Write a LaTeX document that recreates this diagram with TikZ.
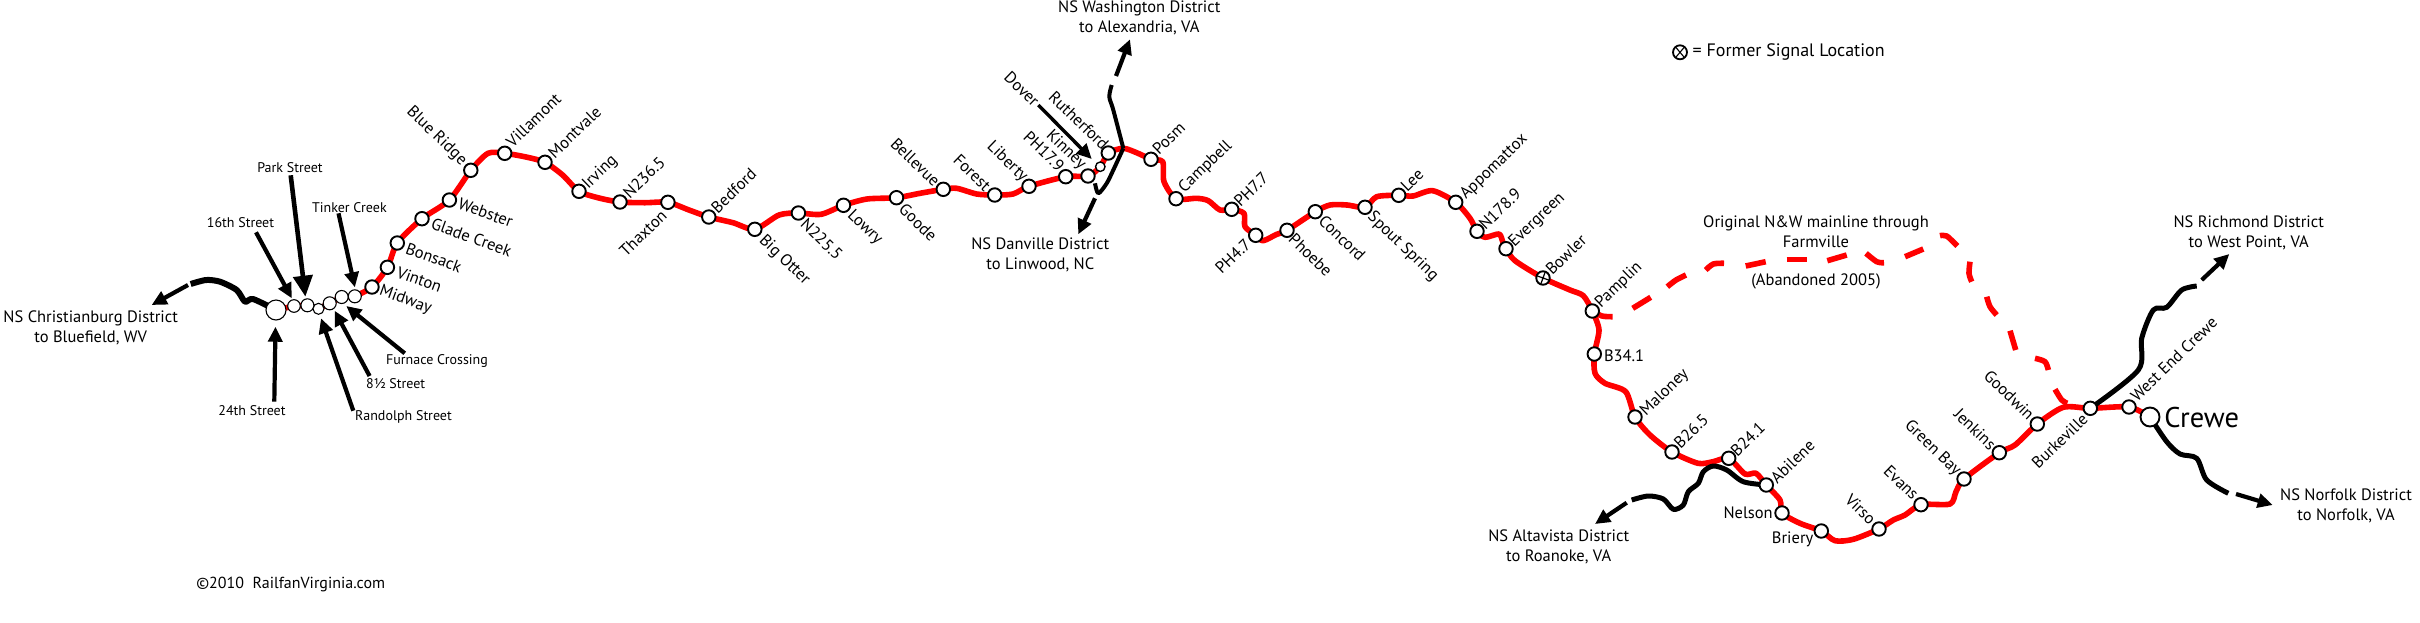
\documentclass[tikz,border=0pt]{standalone}
\usepackage{fontspec}
\setmainfont{PT Sans}
\usetikzlibrary{arrows.meta}
\definecolor{railred}{RGB}{255,0,0}
\tikzset{
  st/.style={circle,draw=black,fill=white,line width=1.9pt,minimum size=13.5pt,inner sep=0pt,outer sep=0pt},
  sts/.style={circle,draw=black,fill=white,line width=1.1pt,inner sep=0pt,outer sep=0pt},
  rail/.style={draw=railred,line width=5.6pt,line join=round},
  old/.style={draw=railred,line width=5.6pt,line join=round},
  blk/.style={draw=black,line width=5pt,line join=round},
  ptr/.style={draw=black,line width=4.2pt,-{Triangle[length=15pt,width=14pt]}},
  lab/.style={font=\fontsize{16.5}{20}\selectfont,inner sep=0pt,outer sep=0pt},
  up/.style={lab,rotate=44,anchor=west},
  upe/.style={lab,rotate=44,anchor=east},
  dn/.style={lab,rotate=-44,anchor=west},
  dne/.style={lab,rotate=-44,anchor=east},
  sl/.style={lab,rotate=-20,anchor=west},
  txt/.style={font=\fontsize{16.5}{20}\selectfont,align=center,inner sep=0pt},
  sm/.style={font=\fontsize{14}{17}\selectfont,align=center,inner sep=0pt}
}
\begin{document}
\begin{tikzpicture}[x=1pt,y=-1pt]
\useasboundingbox (0,0) rectangle (2420,622);
% junction coordinates
\coordinate (jw) at (1123.3,148.3);
\coordinate (jd) at (1098.3,193.3);
\coordinate (big) at (276,310);
\coordinate (cwc) at (2150,417);
% named positions of stations
\coordinate (p1) at (294,306);\coordinate (p2) at (307.4,305.3);\coordinate (p3) at (318.5,308.8);
\coordinate (p4) at (329.7,303.3);\coordinate (p5) at (341.7,297);\coordinate (p6) at (354.8,296.3);
\coordinate (mid) at (372,287);\coordinate (vin) at (387.4,267.3);\coordinate (bon) at (397.3,243);
\coordinate (gla) at (422,218.7);\coordinate (web) at (449.4,200);\coordinate (blu) at (470.8,170.3);
\coordinate (vil) at (504.7,153.3);\coordinate (mon) at (545,162.3);\coordinate (irv) at (579,191.3);
\coordinate (n23) at (620,202);\coordinate (tha) at (667.9,202.3);\coordinate (bed) at (708.8,217);
\coordinate (bot) at (754.8,229.3);\coordinate (n22) at (798.4,213);\coordinate (low) at (843.5,205.3);
\coordinate (goo) at (896.5,197.7);\coordinate (bel) at (943.3,189.3);\coordinate (for) at (994.7,195);
\coordinate (lib) at (1029,186.3);\coordinate (ph17) at (1065.7,176.7);\coordinate (kin) at (1088,176);
\coordinate (sma) at (1100.3,166.7);\coordinate (rut) at (1108.3,153);\coordinate (pos) at (1151,159.3);
\coordinate (cam) at (1176,198.7);\coordinate (ph7) at (1231.7,209.3);\coordinate (ph4) at (1255.7,235.3);
\coordinate (pho) at (1287,230.3);\coordinate (con) at (1315.3,211.7);\coordinate (spo) at (1365,207.3);
\coordinate (lee) at (1398.7,195.3);\coordinate (app) at (1455.7,202.3);\coordinate (n17) at (1477,231.3);
\coordinate (eve) at (1506,248.7);\coordinate (bow) at (1543,278);\coordinate (pam) at (1592.3,311);
\coordinate (b34) at (1594.3,354);\coordinate (mal) at (1635,417);\coordinate (b26) at (1672,452);
\coordinate (b24) at (1728.7,458.3);\coordinate (abi) at (1766.3,485);\coordinate (nel) at (1782,513);
\coordinate (bri) at (1821.3,531);\coordinate (vir) at (1879,529);\coordinate (eva) at (1921,504.7);
\coordinate (gre) at (1964,479);\coordinate (jen) at (1999.3,452.7);\coordinate (gdw) at (2037.3,424);
\coordinate (bur) at (2090.3,408.3);\coordinate (wec) at (2129,407);
% main line
\draw[rail] (big)--(p1)--(p2)--(p3)--(p4)--(p5)--(p6);
\draw[rail] plot[smooth,tension=.45] coordinates {(p6)(mid)(vin)(bon)(gla)(web)(blu)(488,153.3)(vil)(526,157)(mon)(562.6,175)(irv)(599,198)(n23)(645,202.7)(tha)(689,210)(bed)(733,222.7)(bot)(779,215)(n22)(821,214.3)(low)(867,199)(goo)(920,193.3)(bel)(956.7,188.3)(976.7,194)(for)(1013,194)(lib)(ph17)(kin)(sma)(rut)(1123.3,148.3)(1138,153.3)(pos)(1162.7,161.7)(1164,181.7)(cam)(1196.7,198.3)(1208.3,200.7)(1220,210)(ph7)(1244,213.3)(1245,226.7)(ph4)(1263,240.7)(1276.7,234.3)(pho)(con)(1330,205)(1347,205)(spo)(1376.7,196.7)(lee)(1413,196)(1432.7,190.7)(app)(1470,218.3)(n17)(1485,237.3)(1499,234)(1502.7,241.7)(eve)(1515,260.7)(bow)(1570,290)(1583.3,295.7)(pam)(1599,330)(b34)(1595,373.3)(1605,383.3)(1625.7,391.7)(mal)(1650,435)(b26)(1698,463.3)(1713,461.7)(b24)(1745,474)(1756,473.3)(abi)(1780,500)(nel)(1800,523.3)(bri)(1835,540.7)(1853.3,539.3)(vir)(1893.3,520)(1905,515)(eva)(1950,504)(1956,491.7)(gre)(jen)(2015,445)(gdw)(2063.3,407.3)(bur)(wec)(cwc)};
% abandoned line
\draw[old] plot[smooth,tension=.5] coordinates {(pam)(1602,316)(1612.7,316.7)};
\draw[old] (1632.7,308.3)--(1650.7,297.3);
\draw[old] plot[smooth,tension=.5] coordinates {(1667.3,286.7)(1676,280)(1686,275)};
\draw[old] plot[smooth,tension=.5] coordinates {(1705.7,270)(1713.3,264)(1724,263.3)};
\draw[old] (1745.7,266)--(1765.7,261.7);
\draw[old] (1786.7,259.3)--(1807.3,259.3);
\draw[old] (1827.3,260.7)--(1846.7,255);
\draw[old] plot[smooth,tension=.5] coordinates {(1866,253.3)(1876.7,261.7)(1884,262.7)};
\draw[old] (1905,256.7)--(1923.3,249);
\draw[old] plot[smooth,tension=.5] coordinates {(1940,235.7)(1946.7,236)(1957.3,246)};
\draw[old] plot[smooth,tension=.5] coordinates {(1970,261.7)(1969,273.3)(1971.7,281.7)};
\draw[old] plot[smooth,tension=.5] coordinates {(1986.7,296.7)(1990,306.7)(1996.7,315)};
\draw[old] (2010,330.7)--(2015.7,350);
\draw[old] plot[smooth,tension=.5] coordinates {(2035,358.3)(2045,361.7)(2048.3,370)};
\draw[old] plot[smooth,tension=.5] coordinates {(2055,389.3)(2061.7,400)(2067.3,403.3)};
% black connecting lines
\draw[blk,line width=6pt] plot[smooth,tension=.45] coordinates {(big)(253,299)(245,301.7)(236.7,290)(220,281.7)(206,280)(190.7,284)};
\draw[blk,line width=4pt] plot[smooth,tension=.5] coordinates {(jw)(1113.3,110)(1109.3,96.7)(1111.7,85)};
\draw[blk,line width=4pt] plot[smooth,tension=.5] coordinates {(jw)(1113.3,170)(1106.7,183.3)(jd)(1095,183.3)};
\draw[blk] plot[smooth,tension=.5] coordinates {(abi)(1743.3,481.7)(1726.7,470)(1713.3,466)(1703.3,471.7)(1698.3,483.3)(1688.3,491.7)(1683.3,505)(1673.3,509.3)(1663.3,499)(1648.3,496)(1631.7,500)};
\draw[blk] plot[smooth,tension=.5] coordinates {(bur)(2138.3,370)(2141.7,338.3)(2153.3,310)(2166.7,307.3)(2181.7,290)(2196.7,286)};
\draw[blk] plot[smooth,tension=.5] coordinates {(cwc)(2166.7,441.7)(2180,454)(2196.7,458.3)(2206.7,480)(2228.3,493.3)};
% stations
\node[sts,minimum size=20pt] (nbig) at (big) {};
\node[sts,minimum size=12.6pt] (n1) at (p1) {};
\node[sts,minimum size=13pt] (n2) at (p2) {};
\node[sts,minimum size=11pt] (n3) at (p3) {};
\node[sts,minimum size=13pt] (n4) at (p4) {};
\node[sts,minimum size=13pt] (n5) at (p5) {};
\node[sts,minimum size=13pt] (n6) at (p6) {};
\foreach \c in {mid,vin,bon,gla,web,blu,vil,mon,irv,n23,tha,bed,bot,n22,low,goo,bel,for,lib,ph17,kin,rut,pos,cam,ph7,ph4,pho,con,spo,lee,app,n17,eve,pam,b34,mal,b26,b24,abi,nel,bri,vir,eva,gre,jen,gdw,bur,wec}
  \node[st] (n\c) at (\c) {};
\node[st,minimum size=9.5pt,line width=1.4pt] (nsma) at (sma) {};
\node[st,minimum size=19pt] (ncrewe) at (cwc) {};
\node[st] (nbow) at (bow) {};
\draw[line width=1.2pt] (nbow.70)--(nbow.250) (nbow.160)--(nbow.340);
% pointer arrows
\coordinate (a16) at (256,232.3);\coordinate (apk) at (290.7,175.3);\coordinate (atk) at (338.5,213.3);
\coordinate (a24) at (274.3,401.7);\coordinate (arn) at (353.3,410.7);\coordinate (a85) at (369.6,376);\coordinate (afn) at (404.7,353.3);
\draw[ptr] (a16)--(291.8,298.3);
\draw[ptr,line width=4.6pt,-{Triangle[length=21pt,width=19pt]}] (apk)--(305.4,296.7);
\draw[ptr] (atk)--(354.9,287.3);
\draw[ptr] (a24)--(275.5,326.7);
\draw[ptr] (arn)--(321,318.3);
\draw[ptr] (a85)--(334.6,310.7);
\draw[ptr] (afn)--(346.3,306);
\draw[ptr,line width=3.4pt] (1038.3,105)--(1091.7,159);
\draw[ptr] (188,285)--(151.7,305);
\draw[ptr] (1116,76)--(1130,39.3);
\draw[ptr] (1095,198.3)--(1078.3,234.3);
\draw[ptr] (1626.7,502.7)--(1595,524);
\draw[ptr] (2201.7,280)--(2229.3,254);
\draw[ptr] (2236,494)--(2272.7,505);
% station labels
\node[sl] (lmid) at (380,291) {Midway};
\node[sl] (lvin) at (397.7,271.7) {Vinton};
\node[sl] (lbon) at (406.6,247.7) {Bonsack};
\node[sl] (lgla) at (432,223) {Glade Creek};
\node[sl] (lweb) at (459,203) {Webster};
\node[dne] (lblu) at (464,163) {Blue Ridge};
\node[up] (lvil) at (509,144) {Villamont};
\node[up] (lmon) at (551,155) {Montvale};
\node[up] (lirv) at (585.6,186.7) {Irving};
\node[up] (ln23) at (625.8,195) {N236.5};
\node[upe] (ltha) at (664,213) {Thaxton};
\node[up] (lbed) at (713.8,210) {Bedford};
\node[dn] (lbot) at (761.6,238.3) {Big Otter};
\node[dn] (ln22) at (803.7,221.7) {N225.5};
\node[dn] (llow) at (849.7,213.3) {Lowry};
\node[dn] (lgoo) at (902,206.7) {Goode};
\node[dne] (lbel) at (937.3,183.3) {Bellevue};
\node[dne] (lfor) at (988,188.3) {Forest};
\node[dne] (llib) at (1025,179.3) {Liberty};
\node[dne] (lph17) at (1061.7,168.3) {PH17.9};
\node[dne] (lkin) at (1083.3,166.7) {Kinney};
\node[dne] (ldov) at (1036.7,103.3) {Dover};
\node[dne] (lrut) at (1106,146.7) {Rutherford};
\node[up] (lpos) at (1155,151.7) {Posm};
\node[up] (lcam) at (1181.7,190) {Campbell};
\node[up] (lph7) at (1236.7,203.3) {PH7.7};
\node[upe] (lph4) at (1248,241.7) {PH4.7};
\node[dn] (lpho) at (1291.7,236.7) {Phoebe};
\node[dn] (lcon) at (1321.7,218.3) {Concord};
\node[dn] (lspo) at (1370,215) {Spout Spring};
\node[up] (llee) at (1403.3,188.3) {Lee};
\node[up] (lapp) at (1463.3,196.7) {Appomattox};
\node[up] (ln17) at (1481.7,226.7) {N178.9};
\node[up] (leve) at (1511.7,245) {Evergreen};
\node[up] (lbow) at (1548.3,271.7) {Bowler};
\node[up] (lpam) at (1598.3,305) {Pamplin};
\node[lab,anchor=west] (lb34) at (1604,355.7) {B34.1};
\node[up] (lmal) at (1643.3,413.3) {Maloney};
\node[up] (lb26) at (1676.7,445) {B26.5};
\node[up] (lb24) at (1733.3,453.3) {B24.1};
\node[up] (labi) at (1773.3,480) {Abilene};
\node[lab,anchor=east] (lnel) at (1772.7,512.3) {Nelson};
\node[lab,anchor=east] (lbri) at (1813.3,539.3) {Briery};
\node[dne] (lvir) at (1873.3,521.7) {Virso};
\node[dne] (leva) at (1916,496.7) {Evans};
\node[dne] (lgre) at (1958.3,473.3) {Green Bay};
\node[dne] (ljen) at (1993.3,446.7) {Jenkins};
\node[dne] (lgdw) at (2031.7,416.7) {Goodwin};
\node[upe] (lbur) at (2085,416.7) {Burkeville};
\node[up] (lwec) at (2133.3,398.3) {West End Crewe};
\node[lab,anchor=west,font=\fontsize{28.5}{30}\selectfont] (lcrw) at (2164.3,417.3) {Crewe};
% pointer labels
\node[sm] (tpk) at (290,167.3) {Park Street};
\node[sm] (t16) at (240.5,222.3) {16th Street};
\node[sm] (ttk) at (349.4,207.3) {Tinker Creek};
\node[sm] (t24) at (252,410.3) {24th Street};
\node[sm] (trn) at (403.5,417.3) {Randolph Street};
\node[sm] (t85) at (395.7,383.3) {8½ Street};
\node[sm] (tfn) at (437,360.7) {Furnace Crossing};
% districts
\node[txt] (tcb) at (90.7,328.3) {NS Christianburg District\\to Bluefield, WV};
\node[txt] (twa) at (1139.3,18.3) {NS Washington District\\to Alexandria, VA};
\node[txt] (tdn) at (1040.3,255.3) {NS Danville District\\to Linwood, NC};
\node[txt] (tal) at (1558.7,547.3) {NS Altavista District\\to Roanoke, VA};
\node[txt] (tri) at (2248.7,233.3) {NS Richmond District\\to West Point, VA};
\node[txt] (tno) at (2346,506) {NS Norfolk District\\to Norfolk, VA};
\node[txt] (tor) at (1816,231.7) {Original N\&W mainline through\\Farmville};
\node[txt] (tab) at (1816,281.7) {(Abandoned 2005)};
\node[txt,font=\fontsize{16}{20}\selectfont] (tcp) at (290.7,584) {©2010~~RailfanVirginia.com};
% legend
\node[st,minimum size=14pt,line width=1.8pt] (lgc) at (1680,52.3) {};
\draw[line width=1.1pt] (lgc.50)--(lgc.230) (lgc.130)--(lgc.310);
\node[txt,anchor=west,font=\fontsize{18}{20}\selectfont] (lgt) at (1692.5,52.3) {= Former Signal Location};
\end{tikzpicture}
\end{document}
